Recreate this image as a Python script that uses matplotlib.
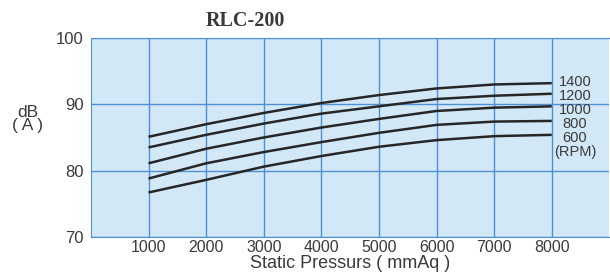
import numpy as np
import matplotlib.pyplot as plt

plt.rcParams['font.family'] = ['Liberation Sans', 'DejaVu Sans']

# 静压 (mmAq)
pressure = [1000, 2000, 3000, 4000, 5000, 6000, 7000, 8000]
# 各转速下的噪音 dB(A)
db_1400 = [85.1, 87.0, 88.7, 90.2, 91.4, 92.4, 93.0, 93.2]
db_1200 = [83.5, 85.4, 87.1, 88.6, 89.7, 90.8, 91.3, 91.6]
db_1000 = [81.1, 83.3, 85.0, 86.5, 87.8, 89.0, 89.5, 89.7]
db_800 = [78.8, 81.1, 82.8, 84.3, 85.7, 86.9, 87.4, 87.5]
db_600 = [76.7, 78.6, 80.6, 82.2, 83.6, 84.6, 85.2, 85.4]
rpm_labels = ["1400", "1200", "1000", "800", "600", "(RPM)"]
label_y = [93.3, 91.2, 89.1, 87.0, 84.9, 82.8]

fig = plt.figure(figsize=(6.1, 2.8), dpi=100)
ax = fig.add_axes([0.149, 0.154, 0.85, 0.71])
ax.set_facecolor('#d3e8f6')

for ys in [db_1400, db_1200, db_1000, db_800, db_600]:
    ax.plot(pressure, ys, color='#262626', lw=1.8, solid_capstyle='butt')

for lab, y in zip(rpm_labels, label_y):
    ax.text(8400, y, lab, ha='center', va='center', fontsize=10.5, color='#3a3a3a')

ax.set_xlim(0, 9000)
ax.set_ylim(70, 100)
ax.set_xticks(pressure)
ax.set_yticks([70, 80, 90, 100])
ax.grid(True, color='#4f8fd6', lw=1.0)
ax.set_axisbelow(True)
for s in ax.spines.values():
    s.set_color('#4f8fd6')
ax.spines['right'].set_visible(False)
ax.tick_params(axis='y', length=0, labelsize=12, labelcolor='#3a3a3a', pad=5)
ax.tick_params(axis='x', length=0, labelsize=11.5, labelcolor='#3a3a3a', pad=2)
ax.set_xlabel("Static Pressurs ( mmAq )", fontsize=13, color='#3a3a3a', labelpad=0)

fig.text(0.045, 0.575, "dB\n( A )", ha='center', va='center', fontsize=12.5,
         color='#3a3a3a', linespacing=0.8)
fig.text(0.403, 0.925, "RLC-200", ha='center', va='center', fontsize=14.5,
         fontweight='bold', color='#3a3a3a', family='Liberation Serif')

fig.savefig("out.png", dpi=100)
